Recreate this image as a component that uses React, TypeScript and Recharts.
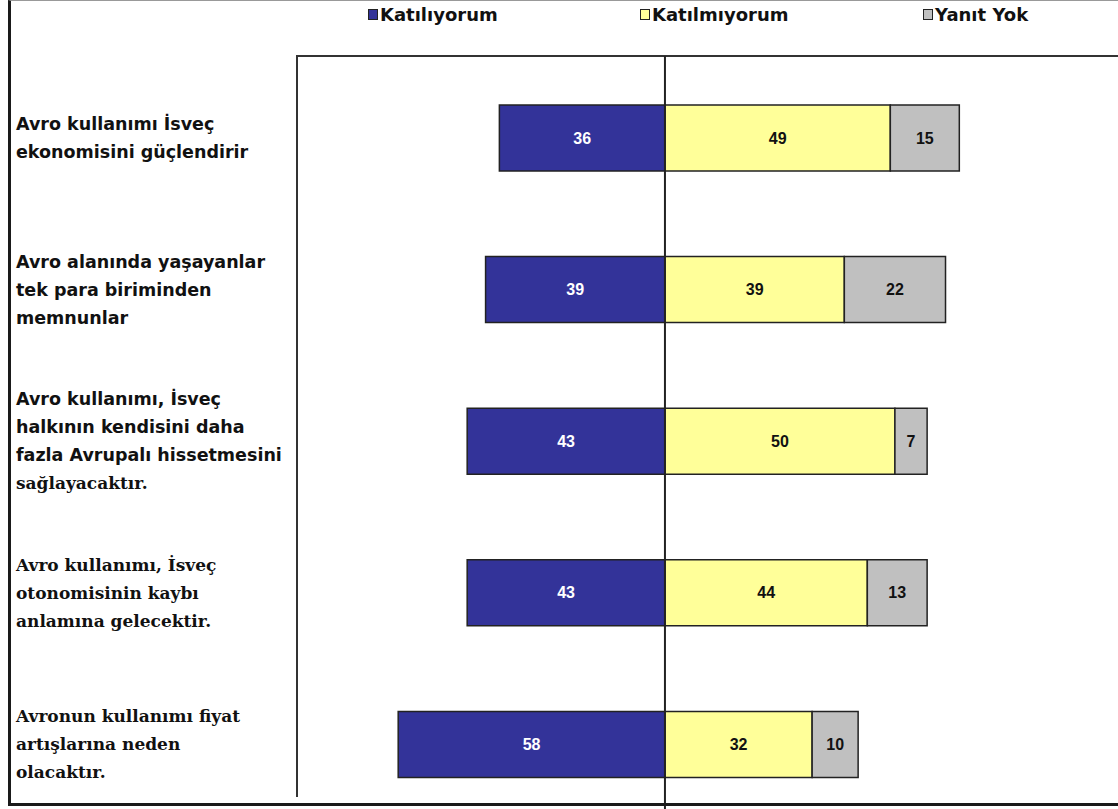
import { BarChart, Bar, XAxis, YAxis, Legend, LabelList, ReferenceLine } from 'recharts';

// survey statements (line breaks as in the original slide)
const statements = [
  'Avro kullanımı İsveç\nekonomisini  güçlendirir',
  'Avro alanında yaşayanlar\ntek para biriminden\nmemnunlar',
  'Avro kullanımı, İsveç\nhalkının kendisini daha\nfazla Avrupalı hissetmesini\nsağlayacaktır.',
  'Avro kullanımı, İsveç\notonomisinin kaybı\nanlamına gelecektir.',
  'Avronun kullanımı fiyat\nartışlarına neden\nolacaktır.',
];
const agree = [36, 39, 43, 43, 58];
const disagree = [49, 39, 50, 44, 32];
const noAnswer = [15, 22, 7, 13, 10];

const seriesNames = ['Katılıyorum', 'Katılmıyorum', 'Yanıt Yok'];
const seriesColors = ['#333399', '#FFFF99', '#C0C0C0'];

// agree goes to the left of the zero line
const chartData = statements.map((statement, i) => ({
  statement,
  agree: -agree[i],
  disagree: disagree[i],
  noAnswer: noAnswer[i],
}));

const SANS = '"Liberation Sans", Arial, sans-serif';
const WIDE_SANS = '"DejaVu Sans", Verdana, sans-serif';
const WIDE_SERIF = '"DejaVu Serif", Georgia, serif';
// first line index that is set in serif, per statement (the source mixes fonts)
const serifFrom = [99, 99, 3, 0, 0];

const StatementTick = (props: any) => {
  const { y, payload, index } = props;
  const lines = String(payload.value).split('\n');
  const lh = 28;
  const startY = y - ((lines.length - 1) * lh) / 2;
  return (
    <g>
      {lines.map((line, i) => {
        const serif = i >= serifFrom[index];
        return (
          <text
            key={i}
            x={16}
            y={startY + i * lh}
            dy="0.35em"
            textAnchor="start"
            fontFamily={serif ? WIDE_SERIF : WIDE_SANS}
            fontWeight="bold"
            fontSize={serif ? 17 : 17.5}
            fill="#111"
          >
            {line}
          </text>
        );
      })}
    </g>
  );
};

const legendLefts = [368, 640, 923];

const TopLegend = () => (
  <div style={{ position: 'relative', width: 1118, height: 30 }}>
    {seriesNames.map((name, i) => (
      <div
        key={name}
        style={{
          position: 'absolute',
          left: legendLefts[i],
          top: 0,
          display: 'flex',
          alignItems: 'center',
          fontFamily: WIDE_SANS,
          fontWeight: 'bold',
          fontSize: 18,
          color: '#111',
        }}
      >
        <span
          style={{
            display: 'inline-block',
            width: 8,
            height: 9,
            border: '1.5px solid #222',
            background: seriesColors[i],
            marginRight: 2,
          }}
        />
        {name}
      </div>
    ))}
  </div>
);

const absLabel = (v: any) => Math.abs(Number(v));

export default function App() {
  return (
    <div style={{ position: 'absolute', left: 0, top: 0, width: 1118, height: 809, overflow: 'hidden', background: '#fff' }}>
      {/* plot frame: top and left border */}
      <div
        style={{
          position: 'absolute',
          left: 296,
          top: 55,
          width: 822,
          height: 742,
          borderLeft: '2px solid #333',
          borderTop: '2px solid #333',
          boxSizing: 'border-box',
        }}
      />
      <BarChart
        width={1118}
        height={830}
        data={chartData}
        layout="vertical"
        stackOffset="sign"
        margin={{ top: 56, right: 0, bottom: 10, left: 0 }}
        style={{ position: 'absolute', left: 0, top: 0 }}
      >
        <XAxis type="number" hide domain={[-80, 98.5]} allowDataOverflow />
        <YAxis
          type="category"
          dataKey="statement"
          width={297}
          axisLine={false}
          tickLine={false}
          tick={<StatementTick />}
          padding={{ top: 6, bottom: 0 }}
          interval={0}
        />
        <Legend
          layout="vertical"
          verticalAlign="middle"
          align="center"
          wrapperStyle={{ top: 4, left: 0, width: 1118, height: 30 }}
          content={() => <TopLegend />}
        />
        <Bar dataKey="agree" name={seriesNames[0]} stackId="s" fill={seriesColors[0]} stroke="#222" strokeWidth={1.5} barSize={66} isAnimationActive={false}>
          <LabelList dataKey="agree" position="center" formatter={absLabel} fill="#fff" fontFamily={SANS} fontWeight="bold" fontSize={16} />
        </Bar>
        <Bar dataKey="disagree" name={seriesNames[1]} stackId="s" fill={seriesColors[1]} stroke="#222" strokeWidth={1.5} barSize={66} isAnimationActive={false}>
          <LabelList dataKey="disagree" position="center" fill="#111" fontFamily={SANS} fontWeight="bold" fontSize={16} />
        </Bar>
        <Bar dataKey="noAnswer" name={seriesNames[2]} stackId="s" fill={seriesColors[2]} stroke="#222" strokeWidth={1.5} barSize={66} isAnimationActive={false}>
          <LabelList dataKey="noAnswer" position="center" fill="#111" fontFamily={SANS} fontWeight="bold" fontSize={16} />
        </Bar>
        <ReferenceLine x={0} stroke="#222" strokeWidth={2} />
      </BarChart>
      {/* outer frame: left, top and bottom */}
      <div
        style={{
          position: 'absolute',
          left: 8,
          top: 0,
          width: 1110,
          height: 806,
          borderLeft: '3px solid #1a1a1a',
          borderTop: '1px solid #999',
          borderBottom: '3px solid #1a1a1a',
          boxSizing: 'border-box',
          pointerEvents: 'none',
        }}
      />
    </div>
  );
}
